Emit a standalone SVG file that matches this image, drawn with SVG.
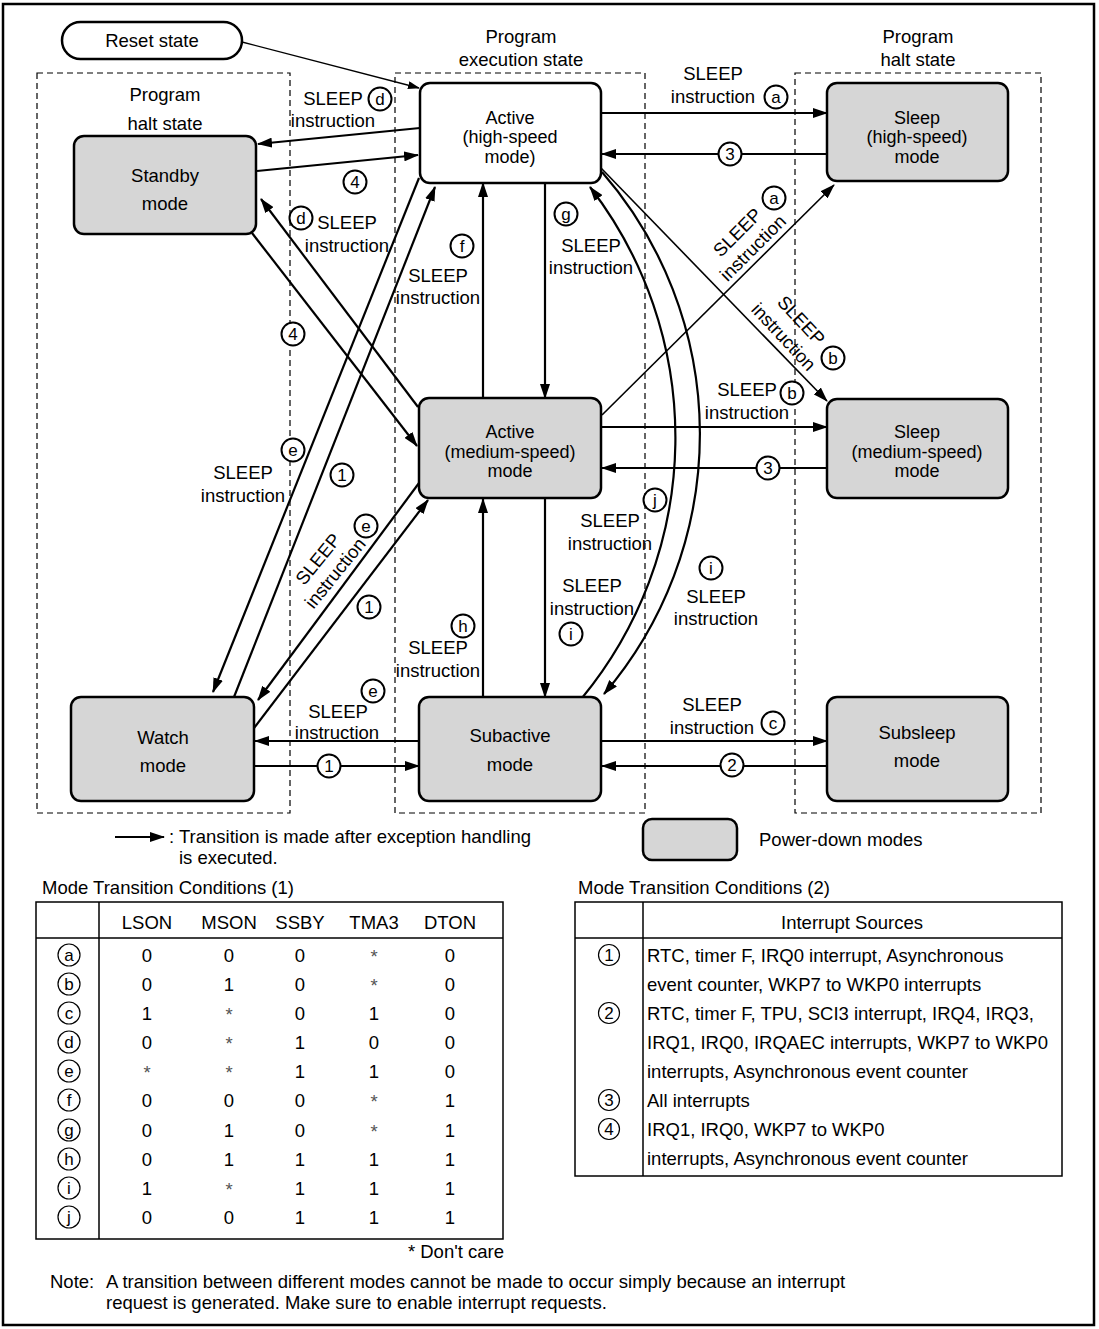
<svg xmlns="http://www.w3.org/2000/svg" width="1099" height="1329" viewBox="0 0 1099 1329">
<style>
text { font-family: "Liberation Sans", Arial, Helvetica, sans-serif; font-size: 18.5px; fill: #000; }
.c { text-anchor: middle; }
.s { text-anchor: start; }
.e { text-anchor: end; }
.n3 { font-size: 18px; }
.node { stroke: #000; stroke-width: 2.5; fill: #d6d6d6; }
.white { fill: #fff; }
.ln { stroke: #000; stroke-width: 2.2; fill: none; marker-end: url(#ah); }
.thin { stroke: #000; stroke-width: 1.3; fill: none; marker-end: url(#ahs); }
.mid { stroke: #000; stroke-width: 1.6; fill: none; marker-end: url(#ah); }
.dash { fill: none; stroke: #000; stroke-width: 1.2; stroke-dasharray: 6 4; }
.cc circle { fill: #fff; stroke: #000; stroke-width: 2; }
.cc text { font-size: 17px; text-anchor: middle; dominant-baseline: central; }
.tc circle { fill: #fff; stroke: #000; stroke-width: 1.2; }
.tc text { font-size: 17px; text-anchor: middle; dominant-baseline: central; }
.tbl { fill: none; stroke: #000; stroke-width: 1.5; }
.ast { fill: #555; }
</style>
<defs>
<marker id="ah" markerUnits="userSpaceOnUse" markerWidth="15" markerHeight="10" refX="14" refY="5" orient="auto"><path d="M0,0 L15,5 L0,10 Z" fill="#000"/></marker>
<marker id="ahs" markerUnits="userSpaceOnUse" markerWidth="12" markerHeight="8" refX="11" refY="4" orient="auto"><path d="M0,0 L12,4 L0,8 Z" fill="#000"/></marker>
</defs>
<rect x="3" y="4" width="1091" height="1321" fill="#fff" stroke="#000" stroke-width="2.5"/>

<!-- state regions -->
<g id="regions">
<rect class="dash" x="37" y="73" width="253" height="740"/>
<rect class="dash" x="395" y="73" width="250" height="740"/>
<rect class="dash" x="795" y="73" width="246" height="740"/>
<text class="c" x="165" y="101">Program</text>
<text class="c" x="165" y="130">halt state</text>
<text class="c" x="521" y="43">Program</text>
<text class="c" x="521" y="66">execution state</text>
<text class="c" x="918" y="43">Program</text>
<text class="c" x="918" y="66">halt state</text>
</g>

<!-- connectors -->
<g id="connectors">
<path class="thin" d="M242,42 L419,88"/>
<path class="ln" d="M420,128 L258,144"/>
<path class="ln" d="M257,171 L418,155"/>
<path class="ln" d="M418,407 L261,199"/>
<path class="ln" d="M252,233 L417,446"/>
<path class="ln" d="M419,178 L213,692"/>
<path class="ln" d="M234,697 L435,187"/>
<path class="ln" d="M419,483 L258,700"/>
<path class="ln" d="M254,728 L428,500"/>
<path class="ln" d="M419,741 L255,741"/>
<path class="ln" d="M254,766 L419,766"/>
<path class="ln" d="M483,398 L483,183"/>
<path class="ln" d="M545,183 L545,398"/>
<path class="ln" d="M483,698 L483,499"/>
<path class="ln" d="M545,498 L545,697"/>
<path class="ln" d="M601,113 L827,113"/>
<path class="ln" d="M827,154 L602,154"/>
<path class="ln" d="M601,427 L827,427"/>
<path class="ln" d="M827,468 L602,468"/>
<path class="mid" d="M602,415 L834,185"/>
<path class="mid" d="M601,168 L827,401"/>
<path class="ln" d="M582,698 A410,410 0 0 0 590,187"/>
<path class="ln" d="M602,172 A400,400 0 0 1 604,694"/>
<path class="ln" d="M601,741 L827,741"/>
<path class="ln" d="M827,766 L602,766"/>
</g>

<!-- nodes -->
<g id="reset">
<rect x="62" y="22" width="180" height="37" rx="18.5" fill="#fff" stroke="#000" stroke-width="2.5"/>
<text class="c" x="152" y="47">Reset state</text>
</g>
<g id="active-high">
<rect class="node white" x="420" y="83" width="181" height="100" rx="10"/>
<text class="c n3" x="510" y="123.5">Active</text>
<text class="c n3" x="510" y="143">(high-speed</text>
<text class="c n3" x="510" y="162.5">mode)</text>
</g>
<g id="sleep-high">
<rect class="node" x="827" y="83" width="181" height="98" rx="10"/>
<text class="c n3" x="917" y="123.5">Sleep</text>
<text class="c n3" x="917" y="143">(high-speed)</text>
<text class="c n3" x="917" y="162.5">mode</text>
</g>
<g id="standby">
<rect class="node" x="74" y="136" width="182" height="98" rx="10"/>
<text class="c" x="165" y="182">Standby</text>
<text class="c" x="165" y="210">mode</text>
</g>
<g id="active-medium">
<rect class="node" x="419" y="398" width="182" height="100" rx="10"/>
<text class="c n3" x="510" y="438">Active</text>
<text class="c n3" x="510" y="457.5">(medium-speed)</text>
<text class="c n3" x="510" y="477">mode</text>
</g>
<g id="sleep-medium">
<rect class="node" x="827" y="399" width="181" height="99" rx="10"/>
<text class="c n3" x="917" y="438">Sleep</text>
<text class="c n3" x="917" y="457.5">(medium-speed)</text>
<text class="c n3" x="917" y="477">mode</text>
</g>
<g id="watch">
<rect class="node" x="71" y="697" width="183" height="104" rx="10"/>
<text class="c" x="163" y="744">Watch</text>
<text class="c" x="163" y="772">mode</text>
</g>
<g id="subactive">
<rect class="node" x="419" y="697" width="182" height="104" rx="10"/>
<text class="c" x="510" y="742">Subactive</text>
<text class="c" x="510" y="771">mode</text>
</g>
<g id="subsleep">
<rect class="node" x="827" y="697" width="181" height="104" rx="10"/>
<text class="c" x="917" y="739">Subsleep</text>
<text class="c" x="917" y="767">mode</text>
</g>

<!-- connector labels -->
<g id="labels">
<text class="c" x="333" y="105">SLEEP</text><text class="c" x="333" y="127">instruction</text>
<g class="cc"><circle cx="380" cy="99" r="11.5"/><text x="380" y="99">d</text></g>
<g class="cc"><circle cx="355" cy="182" r="11.5"/><text x="355" y="182">4</text></g>
<g class="cc"><circle cx="301" cy="218" r="11.5"/><text x="301" y="218">d</text></g>
<text class="c" x="347" y="229">SLEEP</text><text class="c" x="347" y="252">instruction</text>
<g class="cc"><circle cx="293" cy="334" r="11.5"/><text x="293" y="334">4</text></g>
<g class="cc"><circle cx="293" cy="450" r="11.5"/><text x="293" y="450">e</text></g>
<text class="c" x="243" y="479">SLEEP</text><text class="c" x="243" y="502">instruction</text>
<g class="cc"><circle cx="342" cy="475" r="11.5"/><text x="342" y="475">1</text></g>
<g transform="translate(326.5,566) rotate(-51)"><text class="c" x="0" y="-4.5">SLEEP</text><text class="c" x="0" y="17.5">instruction</text></g>
<g class="cc"><circle cx="366" cy="526" r="11.5"/><text x="366" y="526">e</text></g>
<g class="cc"><circle cx="369" cy="607" r="11.5"/><text x="369" y="607">1</text></g>
<g class="cc"><circle cx="373" cy="691" r="11.5"/><text x="373" y="691">e</text></g>
<text class="c" x="338" y="718">SLEEP</text><text class="c" x="337" y="739">instruction</text>
<g class="cc"><circle cx="329" cy="766" r="11.5"/><text x="329" y="766">1</text></g>
<g class="cc"><circle cx="462" cy="246" r="11.5"/><text x="462" y="246">f</text></g>
<text class="c" x="438" y="282">SLEEP</text><text class="c" x="438" y="304">instruction</text>
<g class="cc"><circle cx="566" cy="214" r="11.5"/><text x="566" y="214">g</text></g>
<text class="c" x="591" y="252">SLEEP</text><text class="c" x="591" y="274">instruction</text>
<g class="cc"><circle cx="463" cy="626" r="11.5"/><text x="463" y="626">h</text></g>
<text class="c" x="438" y="654">SLEEP</text><text class="c" x="438" y="677">instruction</text>
<text class="c" x="592" y="592">SLEEP</text><text class="c" x="592" y="615">instruction</text>
<g class="cc"><circle cx="571" cy="634" r="11.5"/><text x="571" y="634">i</text></g>
<text class="c" x="713" y="80">SLEEP</text><text class="c" x="713" y="103">instruction</text>
<g class="cc"><circle cx="776" cy="97" r="11.5"/><text x="776" y="97">a</text></g>
<g class="cc"><circle cx="730" cy="154" r="11.5"/><text x="730" y="154">3</text></g>
<g transform="translate(745,240) rotate(-45)"><text class="c" x="0" y="-4.5">SLEEP</text><text class="c" x="0" y="17.5">instruction</text></g>
<g class="cc"><circle cx="774" cy="198" r="11.5"/><text x="774" y="198">a</text></g>
<g transform="translate(792.5,328.5) rotate(47)"><text class="c" x="0" y="-5.5">SLEEP</text><text class="c" x="0" y="18.5">instruction</text></g>
<g class="cc"><circle cx="833" cy="358" r="11.5"/><text x="833" y="358">b</text></g>
<text class="c" x="747" y="396">SLEEP</text><text class="c" x="747" y="419">instruction</text>
<g class="cc"><circle cx="792" cy="393" r="11.5"/><text x="792" y="393">b</text></g>
<g class="cc"><circle cx="768" cy="468" r="11.5"/><text x="768" y="468">3</text></g>
<g class="cc"><circle cx="655" cy="500" r="11.5"/><text x="655" y="500">j</text></g>
<text class="c" x="610" y="527">SLEEP</text><text class="c" x="610" y="550">instruction</text>
<g class="cc"><circle cx="711" cy="568" r="11.5"/><text x="711" y="568">i</text></g>
<text class="c" x="716" y="603">SLEEP</text><text class="c" x="716" y="625">instruction</text>
<text class="c" x="712" y="711">SLEEP</text><text class="c" x="712" y="734">instruction</text>
<g class="cc"><circle cx="773" cy="723" r="11.5"/><text x="773" y="723">c</text></g>
<g class="cc"><circle cx="732" cy="765" r="11.5"/><text x="732" y="765">2</text></g>
</g>

<!-- legend -->
<g id="legend">
<path class="ln" d="M115,837 L164,837"/>
<text class="s" x="169" y="843">: Transition is made after exception handling</text>
<text class="s" x="179" y="864">is executed.</text>
<rect class="node" x="643" y="819" width="94" height="41" rx="9"/>
<text class="s" x="759" y="846">Power-down modes</text>
</g>

<!-- table 1 -->
<g id="table1">
<text class="s" x="42" y="894">Mode Transition Conditions (1)</text>
<rect class="tbl" x="36" y="902" width="467" height="337"/>
<line class="tbl" x1="36" y1="938" x2="503" y2="938"/>
<line class="tbl" x1="99" y1="902" x2="99" y2="1239"/>
<text class="c" x="147" y="929">LSON</text>
<text class="c" x="229" y="929">MSON</text>
<text class="c" x="300" y="929">SSBY</text>
<text class="c" x="374" y="929">TMA3</text>
<text class="c" x="450" y="929">DTON</text>

<g class="tc"><circle cx="69" cy="955" r="11"/><text x="69" y="955">a</text></g>
<text class="c" x="147" y="961.5">0</text><text class="c" x="229" y="961.5">0</text><text class="c" x="300" y="961.5">0</text><text class="c ast" x="374" y="963">*</text><text class="c" x="450" y="961.5">0</text>
<g class="tc"><circle cx="69" cy="984" r="11"/><text x="69" y="984">b</text></g>
<text class="c" x="147" y="990.5">0</text><text class="c" x="229" y="990.5">1</text><text class="c" x="300" y="990.5">0</text><text class="c ast" x="374" y="992">*</text><text class="c" x="450" y="990.5">0</text>
<g class="tc"><circle cx="69" cy="1013" r="11"/><text x="69" y="1013">c</text></g>
<text class="c" x="147" y="1019.5">1</text><text class="c ast" x="229" y="1021">*</text><text class="c" x="300" y="1019.5">0</text><text class="c" x="374" y="1019.5">1</text><text class="c" x="450" y="1019.5">0</text>
<g class="tc"><circle cx="69" cy="1042" r="11"/><text x="69" y="1042">d</text></g>
<text class="c" x="147" y="1048.5">0</text><text class="c ast" x="229" y="1050">*</text><text class="c" x="300" y="1048.5">1</text><text class="c" x="374" y="1048.5">0</text><text class="c" x="450" y="1048.5">0</text>
<g class="tc"><circle cx="69" cy="1071" r="11"/><text x="69" y="1071">e</text></g>
<text class="c ast" x="147" y="1079">*</text><text class="c ast" x="229" y="1079">*</text><text class="c" x="300" y="1077.5">1</text><text class="c" x="374" y="1077.5">1</text><text class="c" x="450" y="1077.5">0</text>
<g class="tc"><circle cx="69" cy="1100" r="11"/><text x="69" y="1100">f</text></g>
<text class="c" x="147" y="1106.5">0</text><text class="c" x="229" y="1106.5">0</text><text class="c" x="300" y="1106.5">0</text><text class="c ast" x="374" y="1108">*</text><text class="c" x="450" y="1106.5">1</text>
<g class="tc"><circle cx="69" cy="1130" r="11"/><text x="69" y="1130">g</text></g>
<text class="c" x="147" y="1136.5">0</text><text class="c" x="229" y="1136.5">1</text><text class="c" x="300" y="1136.5">0</text><text class="c ast" x="374" y="1138">*</text><text class="c" x="450" y="1136.5">1</text>
<g class="tc"><circle cx="69" cy="1159" r="11"/><text x="69" y="1159">h</text></g>
<text class="c" x="147" y="1165.5">0</text><text class="c" x="229" y="1165.5">1</text><text class="c" x="300" y="1165.5">1</text><text class="c" x="374" y="1165.5">1</text><text class="c" x="450" y="1165.5">1</text>
<g class="tc"><circle cx="69" cy="1188" r="11"/><text x="69" y="1188">i</text></g>
<text class="c" x="147" y="1194.5">1</text><text class="c ast" x="229" y="1196">*</text><text class="c" x="300" y="1194.5">1</text><text class="c" x="374" y="1194.5">1</text><text class="c" x="450" y="1194.5">1</text>
<g class="tc"><circle cx="69" cy="1217" r="11"/><text x="69" y="1217">j</text></g>
<text class="c" x="147" y="1223.5">0</text><text class="c" x="229" y="1223.5">0</text><text class="c" x="300" y="1223.5">1</text><text class="c" x="374" y="1223.5">1</text><text class="c" x="450" y="1223.5">1</text>
<text class="e" x="504" y="1258">* Don't care</text>
</g>

<!-- table 2 -->
<g id="table2">
<text class="s" x="578" y="894">Mode Transition Conditions (2)</text>
<rect class="tbl" x="575" y="902" width="487" height="274"/>
<line class="tbl" x1="575" y1="938" x2="1062" y2="938"/>
<line class="tbl" x1="643" y1="902" x2="643" y2="1176"/>
<text class="c" x="852" y="929">Interrupt Sources</text>
<g class="tc"><circle cx="609" cy="955" r="10.5"/><text x="609" y="955">1</text></g>
<g class="tc"><circle cx="609" cy="1013" r="10.5"/><text x="609" y="1013">2</text></g>
<g class="tc"><circle cx="609" cy="1100" r="10.5"/><text x="609" y="1100">3</text></g>
<g class="tc"><circle cx="609" cy="1129" r="10.5"/><text x="609" y="1129">4</text></g>
<text class="s" x="647" y="961.5">RTC, timer F, IRQ0 interrupt, Asynchronous</text>
<text class="s" x="647" y="990.5">event counter, WKP7 to WKP0 interrupts</text>
<text class="s" x="647" y="1019.5">RTC, timer F, TPU, SCI3 interrupt, IRQ4, IRQ3,</text>
<text class="s" x="647" y="1048.5">IRQ1, IRQ0, IRQAEC interrupts, WKP7 to WKP0</text>
<text class="s" x="647" y="1077.5">interrupts, Asynchronous event counter</text>
<text class="s" x="647" y="1106.5">All interrupts</text>
<text class="s" x="647" y="1135.5">IRQ1, IRQ0, WKP7 to WKP0</text>
<text class="s" x="647" y="1164.5">interrupts, Asynchronous event counter</text>
</g>

<!-- note -->
<g id="note">
<text class="s" x="50" y="1288">Note:</text>
<text class="s" x="106" y="1288">A transition between different modes cannot be made to occur simply because an interrupt</text>
<text class="s" x="106" y="1309">request is generated. Make sure to enable interrupt requests.</text>
</g>
</svg>
